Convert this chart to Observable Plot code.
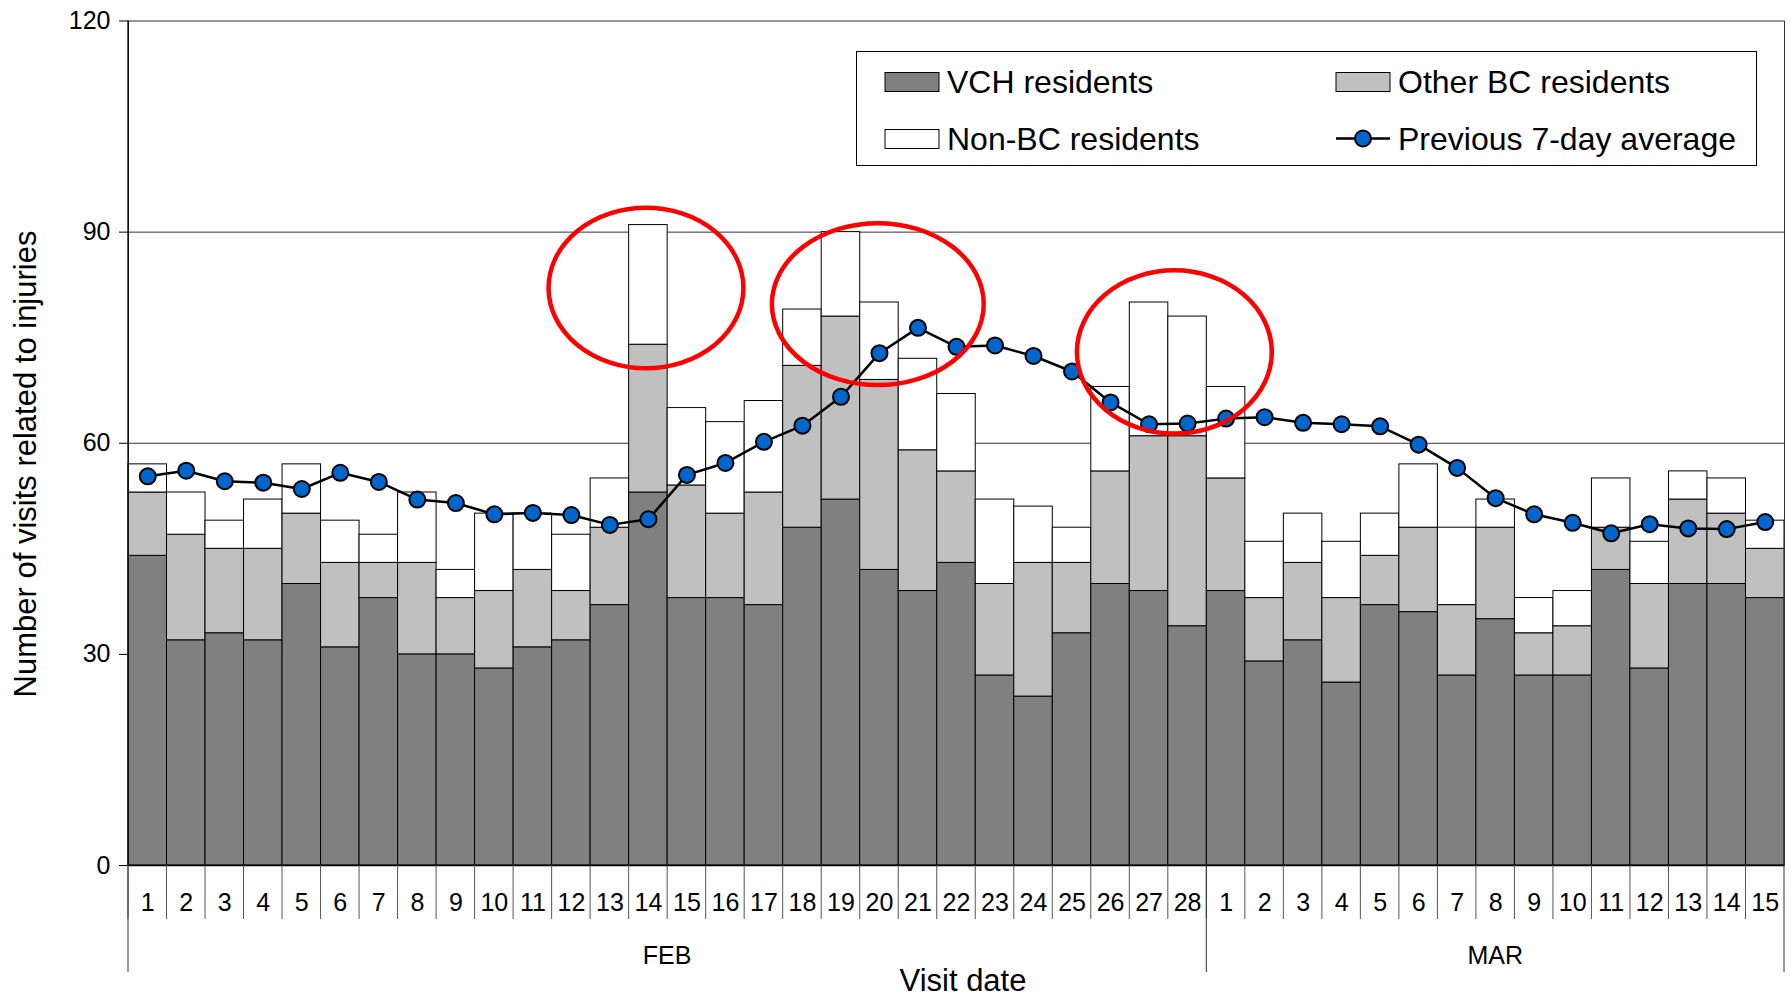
<!DOCTYPE html>
<html>
<head>
<meta charset="utf-8">
<script src="https://cdn.jsdelivr.net/npm/d3@7"></script>
<script src="https://cdn.jsdelivr.net/npm/@observablehq/plot@0.6"></script>
<style>
  html, body { margin: 0; padding: 0; background: #fff; }
  #chart { width: 1791px; height: 998px; }
</style>
</head>
<body>
<div id="chart"></div>
<script>
// ---------- data ----------
const monthLabels = ["FEB", "MAR"];
const monthOfBar = ["FEB","FEB","FEB","FEB","FEB","FEB","FEB","FEB","FEB","FEB","FEB","FEB","FEB","FEB",
  "FEB","FEB","FEB","FEB","FEB","FEB","FEB","FEB","FEB","FEB","FEB","FEB","FEB","FEB",
  "MAR","MAR","MAR","MAR","MAR","MAR","MAR","MAR","MAR","MAR","MAR","MAR","MAR","MAR","MAR"];
const dayLabels = [1,2,3,4,5,6,7,8,9,10,11,12,13,14,15,16,17,18,19,20,21,22,23,24,25,26,27,28,
  1,2,3,4,5,6,7,8,9,10,11,12,13,14,15];

const seriesNames = ["VCH residents", "Other BC residents", "Non-BC residents"];
const seriesColors = ["#808080", "#c0c0c0", "#ffffff"];
const lineName = "Previous 7-day average";

const vch = [44,32,33,32,40,31,38,30,30,28,31,32,37,53,38,38,37,48,52,42,39,43,27,24,33,40,39,34,
  39,29,32,26,37,36,27,35,27,27,42,28,40,40,38];
const otherBC = [9,15,12,13,10,12,5,13,8,11,11,7,11,21,16,12,16,23,26,27,20,13,13,19,10,16,22,27,
  16,9,11,12,7,12,10,13,6,7,6,12,12,10,7];
const nonBC = [4,6,4,7,7,6,4,10,4,11,8,8,7,17,11,13,13,8,12,11,13,11,12,8,5,12,19,17,
  13,8,7,8,6,9,11,4,5,5,7,6,4,5,4];
const avg7 = [55.3,56.1,54.6,54.4,53.5,55.8,54.5,52.0,51.5,49.9,50.1,49.8,48.4,49.2,55.5,57.2,60.2,62.5,66.6,72.8,
  76.4,73.7,73.9,72.4,70.2,65.8,62.7,62.8,
  63.5,63.7,62.9,62.7,62.4,59.8,56.5,52.2,49.9,48.7,47.2,48.5,47.9,47.8,48.8];

const yTicks = [0, 30, 60, 90, 120];

// red highlight ellipses: anchor bar, offset from its centre (in bars), centre value, radii (bars, value units)
const ringBar = ["FEB-14", "FEB-20", "FEB-28"];
const ringOffset = [-0.05, -0.03, -0.33];
const ringValue = [82.0, 79.7, 72.9];
const ringRadiusBars = [2.53, 2.75, 2.53];
const ringRadiusValue = [11.4, 11.5, 11.6];

// ---------- tables ----------
const keys = dayLabels.map((d, i) => `${monthOfBar[i]}-${d}`);
const dayOf = new Map(keys.map((k, i) => [k, dayLabels[i]]));
const seriesValues = [vch, otherBC, nonBC];
const rows = keys.flatMap((k, i) => seriesNames.map((s, j) => ({day: k, series: s, value: seriesValues[j][i]})));
const avgRows = keys.map((k, i) => ({day: k, avg: avg7[i]}));

const FONT = "'Liberation Sans', Arial, Helvetica, sans-serif";

function decorations(index, scales, values, dims) {
  const x = scales.x, y = scales.y;
  const bw = x(keys[1]) - x(keys[0]);
  const y0 = y(0);
  const left = dims.marginLeft, right = dims.width - dims.marginRight;
  const g = d3.create("svg:g").attr("font-family", FONT).attr("text-anchor", "start");

  // day separators below the axis
  keys.forEach(k => {
    g.append("line").attr("x1", x(k)).attr("x2", x(k)).attr("y1", y0).attr("y2", y0 + 54)
      .attr("stroke", "#555").attr("stroke-width", 1);
  });
  // month separators and labels
  monthLabels.forEach(m => {
    const ks = keys.filter((k, i) => monthOfBar[i] === m);
    const x1 = x(ks[0]), x2 = x(ks[ks.length - 1]) + bw;
    g.append("line").attr("x1", x1).attr("x2", x1).attr("y1", y0).attr("y2", y0 + 107)
      .attr("stroke", "#333").attr("stroke-width", 1);
    g.append("text").attr("x", (x1 + x2) / 2).attr("y", y0 + 99).attr("text-anchor", "middle")
      .attr("font-size", 25).text(m);
  });
  g.append("line").attr("x1", right).attr("x2", right).attr("y1", y0).attr("y2", y0 + 107)
    .attr("stroke", "#333").attr("stroke-width", 1);
  // left axis line
  g.append("line").attr("x1", left).attr("x2", left).attr("y1", y(120)).attr("y2", y0)
    .attr("stroke", "#000").attr("stroke-width", 1.3);

  // axis titles
  g.append("text").attr("x", (left + right) / 2 + 7).attr("y", y0 + 126).attr("text-anchor", "middle")
    .attr("font-size", 31).text("Visit date");
  g.append("text").attr("transform", `translate(25,464) rotate(-90)`).attr("text-anchor", "middle")
    .attr("dy", "0.35em").attr("font-size", 31).text("Number of visits related to injuries");

  // red ellipses
  ringBar.forEach((k, i) => {
    g.append("ellipse")
      .attr("cx", x(k) + bw * (0.5 + ringOffset[i]))
      .attr("cy", y(ringValue[i]))
      .attr("rx", bw * ringRadiusBars[i])
      .attr("ry", y0 - y(ringRadiusValue[i]))
      .attr("fill", "none").attr("stroke", "#ff0000").attr("stroke-width", 4.5);
  });

  // legend
  const L = g.append("g").attr("text-anchor", "start");
  L.append("rect").attr("x", 856.5).attr("y", 51.5).attr("width", 900).attr("height", 114)
    .attr("fill", "#fff").attr("stroke", "#000").attr("stroke-width", 1);
  const items = [
    {label: seriesNames[0], kind: "box", color: seriesColors[0], sx: 885, ty: 92.5},
    {label: seriesNames[1], kind: "box", color: seriesColors[1], sx: 1336, ty: 92.5},
    {label: seriesNames[2], kind: "box", color: seriesColors[2], sx: 885, ty: 149.5},
    {label: lineName, kind: "line", sx: 1336, ty: 149.5}
  ];
  items.forEach(it => {
    if (it.kind === "box") {
      L.append("rect").attr("x", it.sx).attr("y", it.ty - 20).attr("width", 54).attr("height", 19)
        .attr("fill", it.color).attr("stroke", "#000").attr("stroke-width", 1);
    } else {
      L.append("line").attr("x1", it.sx).attr("x2", it.sx + 54).attr("y1", it.ty - 11).attr("y2", it.ty - 11)
        .attr("stroke", "#000").attr("stroke-width", 2.5);
      L.append("circle").attr("cx", it.sx + 27).attr("cy", it.ty - 11).attr("r", 8)
        .attr("fill", "#0066cc").attr("stroke", "#000").attr("stroke-width", 2);
    }
    L.append("text").attr("x", it.sx + 62).attr("y", it.ty).attr("text-anchor", "start")
      .attr("font-size", 32).text(it.label);
  });
  return g.node();
}

const chart = Plot.plot({
  width: 1791,
  height: 998,
  marginLeft: 128,
  marginRight: 7,
  marginTop: 20.5,
  marginBottom: 133,
  style: {fontFamily: FONT, fontSize: "25px", color: "#000", background: "#fff", overflow: "visible"},
  x: {type: "band", domain: keys, padding: 0, round: false},
  y: {domain: [0, 120]},
  color: {domain: seriesNames, range: seriesColors},
  marks: [
    Plot.gridY([30, 60, 90], {stroke: "#333", strokeOpacity: 1, strokeWidth: 1}),
    Plot.barY(rows, {x: "day", y: "value", fill: "series", order: seriesNames, stroke: "#000", strokeWidth: 1}),
    Plot.frame({stroke: "#333", strokeWidth: 1}),
    Plot.ruleY([0], {stroke: "#000", strokeWidth: 1.5}),
    Plot.axisY({ticks: yTicks, tickSize: 9, tickPadding: 9, fontSize: 25, label: null, anchor: "left"}),
    Plot.axisX({tickSize: 0, tickPadding: 28, tickFormat: k => dayOf.get(k), fontSize: 25, label: null}),
    Plot.line(avgRows, {x: "day", y: "avg", stroke: "#000", strokeWidth: 2.5}),
    Plot.dot(avgRows, {x: "day", y: "avg", r: 8, fill: "#0066cc", stroke: "#000", strokeWidth: 2}),
    decorations
  ]
});
document.getElementById("chart").appendChild(chart);
</script>
</body>
</html>
